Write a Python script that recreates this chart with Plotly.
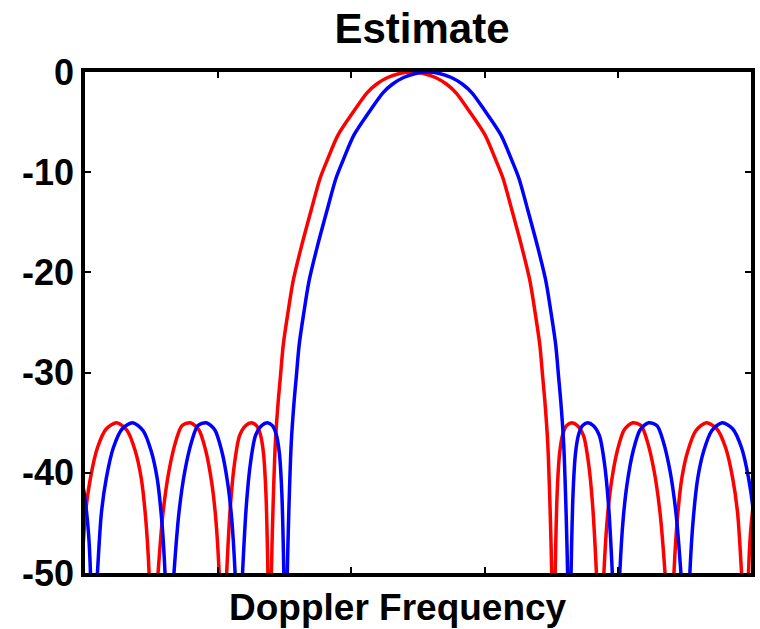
import plotly.graph_objects as go

# Doppler frequency axis (arbitrary bins, 0..670) and response in dB
red_freq = [-18.5, -15.5, -12.5, -10.5, -9, -3.5, 0.5, 5.5, 12.5, 21.5, 32, 42.5, 50.5, 56.5, 61, 64.5,
            67.5, 73.5, 78.5, 84.5, 91.5, 97.5, 106, 114.5, 121.5, 127.5, 131.5, 135,
            138.5, 142.5, 146.5, 150.5, 155.5, 161.5, 167.5, 172.5, 176.5, 179.5, 182, 184,
            185.5, 187.5, 189, 191.5, 194.5, 196.5, 199.5, 204.5, 209.5, 217.5, 227.5, 236.5, 244.5,
            254.5, 270.5, 283.5, 293.5, 304.5, 316.5, 328.5,
            340.5, 352.5, 363.5, 373.5, 386.5, 402.5, 412.5, 420.5, 429.5, 439.5, 447.5, 452.5,
            457.5, 460.5, 462.5, 465.5, 468, 469.5, 471.5,
            473, 475, 477.5, 480.5, 484.5, 489.5, 495.5, 501.5, 506.5, 510.5, 514.5, 518.5,
            522, 525.5, 529.5, 535.5, 542.5, 551, 559.5, 565.5, 572.5, 578.5, 583.5, 589.5,
            592.5, 596, 600.5, 606.5, 614.5, 625, 635.5, 644.5, 651.5, 656.5, 660.5, 666,
            667.5, 669.5, 672.5, 675.5]
red_db = [-41, -43, -46, -50, -60, -50, -44, -40.5, -37.5, -35.6, -35, -35.8, -37.8, -40.5, -44.5, -50,
          -60, -50, -44, -39.8, -36.8, -35.3, -35, -35.7, -37.8, -41, -44.5, -50,
          -60, -50, -43, -39, -36.3, -35.3, -35, -35.3, -36.2, -38, -42, -50,
          -62, -50, -44, -37, -32.7, -30.5, -27.2, -23.8, -20.8, -17.5, -13.8, -10.6, -8.6,
          -6.3, -3.9, -2.1, -1.2, -0.55, -0.15, 0,
          -0.15, -0.55, -1.2, -2.1, -3.9, -6.3, -8.6, -10.6, -13.8, -17.5, -20.8, -23.8,
          -27.2, -30.5, -32.7, -37, -44, -50, -62,
          -50, -42, -38, -36.2, -35.3, -35, -35.3, -36.3, -39, -43, -50, -60,
          -50, -44.5, -41, -37.8, -35.7, -35, -35.3, -36.8, -39.8, -44, -50, -60,
          -50, -44.5, -40.5, -37.8, -35.8, -35, -35.6, -37.5, -40.5, -44, -50, -60,
          -50, -46, -43, -41]

blue_freq = [-2.5, 0.5, 3.5, 5.5, 7, 12.5, 16.5, 21.5, 28.5, 37.5, 48, 58.5, 66.5, 72.5, 77, 80.5,
             83.5, 89.5, 94.5, 100.5, 107.5, 113.5, 122, 130.5, 137.5, 143.5, 147.5, 151,
             154.5, 158.5, 162.5, 166.5, 171.5, 177.5, 183.5, 188.5, 192.5, 195.5, 198, 200,
             201.5, 203.5, 205, 207.5, 210.5, 212.5, 215.5, 220.5, 225.5, 233.5, 243.5, 252.5, 260.5,
             270.5, 286.5, 299.5, 309.5, 320.5, 332.5, 344.5,
             356.5, 368.5, 379.5, 389.5, 402.5, 418.5, 428.5, 436.5, 445.5, 455.5, 463.5, 468.5,
             473.5, 476.5, 478.5, 481.5, 484, 485.5, 487.5,
             489, 491, 493.5, 496.5, 500.5, 505.5, 511.5, 517.5, 522.5, 526.5, 530.5, 534.5,
             538, 541.5, 545.5, 551.5, 558.5, 567, 575.5, 581.5, 588.5, 594.5, 599.5, 605.5,
             608.5, 612, 616.5, 622.5, 630.5, 641, 651.5, 660.5, 667.5, 672.5, 676.5, 682]
blue_db = [-41, -43, -46, -50, -60, -50, -44, -40.5, -37.5, -35.6, -35, -35.8, -37.8, -40.5, -44.5, -50,
           -60, -50, -44, -39.8, -36.8, -35.3, -35, -35.7, -37.8, -41, -44.5, -50,
           -60, -50, -43, -39, -36.3, -35.3, -35, -35.3, -36.2, -38, -42, -50,
           -62, -50, -44, -37, -32.7, -30.5, -27.2, -23.8, -20.8, -17.5, -13.8, -10.6, -8.6,
           -6.3, -3.9, -2.1, -1.2, -0.55, -0.15, 0,
           -0.15, -0.55, -1.2, -2.1, -3.9, -6.3, -8.6, -10.6, -13.8, -17.5, -20.8, -23.8,
           -27.2, -30.5, -32.7, -37, -44, -50, -62,
           -50, -42, -38, -36.2, -35.3, -35, -35.3, -36.3, -39, -43, -50, -60,
           -50, -44.5, -41, -37.8, -35.7, -35, -35.3, -36.8, -39.8, -44, -50, -60,
           -50, -44.5, -40.5, -37.8, -35.8, -35, -35.6, -37.5, -40.5, -44, -50, -60]

x_ticks = [134, 268, 402, 536]
y_ticks = [-50, -40, -30, -20, -10, 0]
y_ticklabels = ["-50", "-40", "-30", "-20", "-10", "0"]

FONT = "Liberation Sans"

fig = go.Figure()
fig.add_trace(go.Scatter(x=red_freq, y=red_db, mode="lines",
                         line=dict(color="#ff0000", width=3.5, shape="spline", smoothing=0.8),
                         showlegend=False))
fig.add_trace(go.Scatter(x=blue_freq, y=blue_db, mode="lines",
                         line=dict(color="#0000ff", width=3.5, shape="spline", smoothing=0.8),
                         showlegend=False))

fig.update_layout(
    width=760, height=629,
    margin=dict(l=85, r=5, t=72, b=56),
    paper_bgcolor="white", plot_bgcolor="white",
    title=dict(text="<b>Estimate</b>", x=(424 - 85) / 670, xref="paper", y=1 - 28 / 629, yref="container",
               xanchor="center", yanchor="middle",
               font=dict(family=FONT, size=42, color="black")),
    font=dict(family=FONT, color="black"),
    annotations=[dict(text="<b>Doppler Frequency</b>", x=(400 - 85) / 670, xref="paper",
                      y=-(607 - 573) / 501, yref="paper", yanchor="middle", xanchor="center",
                      showarrow=False, font=dict(family=FONT, size=37, color="black"))],
)
fig.update_xaxes(range=[0, 670], tickvals=x_ticks, showticklabels=False,
                 ticks="inside", ticklen=6, tickwidth=2, tickcolor="black",
                 showline=True, linewidth=3.5, linecolor="black", mirror="ticks",
                 showgrid=False, zeroline=False)
fig.update_yaxes(range=[-50, 0], tickvals=y_ticks, ticktext=[f"<b>{t}</b>" for t in y_ticklabels],
                 ticks="inside", ticklen=6, tickwidth=2, tickcolor="black",
                 tickfont=dict(family=FONT, size=36, color="black"), ticklabelstandoff=0,
                 showline=True, linewidth=3.5, linecolor="black", mirror="ticks",
                 showgrid=False, zeroline=False)

fig.write_html("out.html")
